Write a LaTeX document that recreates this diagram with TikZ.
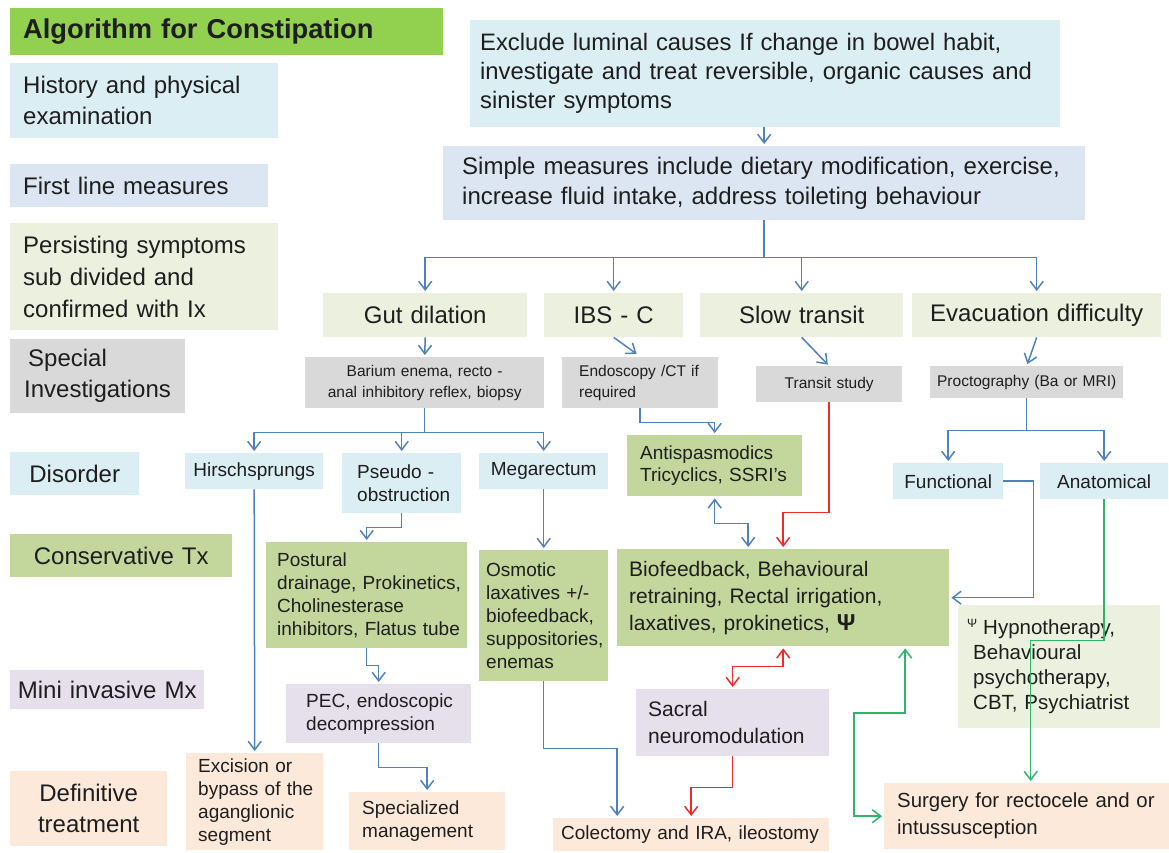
\documentclass[tikz,border=0pt]{standalone}
\usepackage{fontspec}
\setmainfont{Liberation Sans}
\usetikzlibrary{arrows.meta,calc}
\definecolor{tgreen}{HTML}{92D050}
\definecolor{lblue}{HTML}{DBEEF4}
\definecolor{bgrey}{HTML}{DCE6F2}
\definecolor{olive}{HTML}{EBF1DE}
\definecolor{lgrey}{HTML}{D9D9D9}
\definecolor{mgreen}{HTML}{C3D69B}
\definecolor{lav}{HTML}{E5E0EC}
\definecolor{peach}{HTML}{FDE9D9}
\definecolor{ablue}{HTML}{4F81BD}
\definecolor{ared}{HTML}{EE2A2A}
\definecolor{agreen}{HTML}{2DB56A}
\definecolor{txt}{HTML}{1E1E1E}
\tikzset{
  base/.style={anchor=north west, inner xsep=0pt, inner ysep=0pt, text=txt, draw=none},
  bl/.style n args={3}{base, minimum width=#1pt, minimum height=#2pt, text width=#1pt, align=left, execute at begin node={\leftskip=#3pt\relax}},
  bc/.style 2 args={base, minimum width=#1pt, minimum height=#2pt, text width=#1pt, align=center},
  fs/.style 2 args={font=\fontsize{#1}{#2}\selectfont},
  >={Straight Barb[length=8.5pt,width=13pt]},
  ln/.style={draw=ablue, line width=1.5pt},
  arr/.style={ln, ->, shorten >=2pt},
  darr/.style={ln, <->, shorten >=2pt, shorten <=2pt},
  rarr/.style={arr, draw=ared},
  rdarr/.style={darr, draw=ared},
  garr/.style={arr, draw=agreen},
  gdarr/.style={darr, draw=agreen}
}
\begin{document}
\begin{tikzpicture}[x=1pt,y=-1pt]
\useasboundingbox (0,0) rectangle (1169,852);
\fill[white] (0,0) rectangle (1169,852);

% left column
\node[bl={433}{47}{13}, fill=tgreen, font=\fontsize{27.3}{32}\selectfont\bfseries] (title) at (10,8) {Algorithm for Constipation};
\node[bl={268}{75}{13}, fill=lblue, fs={24}{31}] (hist) at (10,63) {History and physical\\examination};
\node[bl={258}{43}{13}, fill=bgrey, fs={24}{31}] (first) at (10,164) {First line measures};
\node[bl={268}{107}{13}, fill=olive, fs={24}{32}] (persist) at (10,223) {Persisting symptoms\\sub divided and\\confirmed with Ix};
\node[bl={175}{74}{14}, fill=lgrey, fs={24}{31}] (spec) at (10,339) {\hspace*{4pt}Special\\Investigations};
\node[bc={129}{43}, fill=lblue, fs={24}{31}] (disorder) at (10,452) {Disorder};
\node[bc={222}{43}, fill=mgreen, fs={24}{31}] (conserv) at (10,534) {Conservative Tx};
\node[bc={194}{39}, fill=lav, fs={24}{31}] (mini) at (10,670) {Mini invasive Mx};
\node[bc={157}{75}, fill=peach, fs={24}{31}] (defin) at (10,771) {Definitive\\treatment};

% top
\node[bl={590}{107}{10}, fill=lblue, fs={23.8}{29}] (exclude) at (470,20) {Exclude luminal causes If change in bowel habit,\\investigate and treat reversible, organic causes and\\sinister symptoms};
\node[bl={642}{74}{19}, fill=bgrey, fs={24}{30}] (simple) at (443,146) {Simple measures include dietary modification, exercise,\\increase fluid intake, address toileting behaviour};

% categories
\node[bc={204}{44}, fill=olive, fs={24}{30}] (gut) at (323,293) {Gut dilation};
\node[bc={139}{44}, fill=olive, fs={24}{30}] (ibs) at (544,293) {IBS - C};
\node[bc={203}{44}, fill=olive, fs={24}{30}] (slow) at (700,293) {Slow transit};
\node[bc={249}{44}, fill=olive, fs={24}{30}] (evac) at (912,293) {Evacuation difficulty};

% investigations
\node[bc={239}{51}, fill=lgrey, fs={15.5}{21}] (barium) at (305,357) {Barium enema, recto -\\anal inhibitory reflex, biopsy};
\node[bl={156}{51}{17}, fill=lgrey, fs={15.5}{21}] (endo) at (562,357) {Endoscopy /CT if\\required};
\node[bc={146}{36}, fill=lgrey, fs={15.5}{21}] (transit) at (756,366) {Transit study};
\node[bc={193}{32}, fill=lgrey, fs={15.5}{21}] (procto) at (930,366) {Proctography (Ba or MRI)};

% disorders
\node[bc={138}{36}, fill=lblue, fs={19}{23}] (hirsch) at (185,453) {Hirschsprungs};
\node[bl={119}{60}{15}, fill=lblue, fs={19}{23}] (pseudo) at (342,453) {Pseudo -\\obstruction};
\node[bc={129}{36}, fill=lblue, fs={19}{23}] (mega) at (479,453) {Megarectum};
\node[bl={175}{61}{13}, fill=mgreen, fs={19}{22}] (antisp) at (627,435) {Antispasmodics\\Tricyclics, SSRI's};
\node[bc={110}{36}, fill=lblue, fs={19}{23}] (functional) at (893,463) {Functional};
\node[bc={128}{36}, fill=lblue, fs={19}{23}] (anatomical) at (1040,463) {Anatomical};

% conservative
\node[bl={201}{106}{11}, fill=mgreen, fs={19}{23}] (postural) at (266,542) {Postural\\drainage, Prokinetics,\\Cholinesterase\\inhibitors, Flatus tube};
\node[bl={129}{131}{7}, fill=mgreen, fs={19}{23}] (osmotic) at (479,550) {Osmotic\\laxatives +/-\\biofeedback,\\suppositories,\\enemas};
\node[bl={332}{97}{12}, fill=mgreen, fs={21}{27}] (biofeed) at (617,549) {Biofeedback, Behavioural\\retraining, Rectal irrigation,\\laxatives, prokinetics, {\fontsize{23}{27}\selectfont\textbf{Ψ}}};
\node[bl={202}{123}{15}, fill=olive, fs={20.5}{25}] (hypno) at (958,605) {\hspace*{-6pt}\raisebox{7pt}{\fontsize{12}{12}\selectfont Ψ}\hspace*{6pt}Hypnotherapy,\\Behavioural\\psychotherapy,\\CBT, Psychiatrist};

% mini invasive
\node[bl={185}{59}{20}, fill=lav, fs={19}{23}] (pec) at (286,684) {PEC, endoscopic\\decompression};
\node[bl={193}{67}{12}, fill=lav, fs={21}{27}] (sacral) at (636,689) {Sacral\\neuromodulation};

% definitive
\node[bl={137}{97}{12}, fill=peach, fs={19}{23}] (excision) at (186,753) {Excision or\\bypass of the\\aganglionic\\segment};
\node[bl={156}{58}{13}, fill=peach, fs={19}{23}] (specmg) at (349,792) {Specialized\\management};
\node[bl={276}{33}{8}, fill=peach, fs={19}{23}] (colect) at (553,818) {Colectomy and IRA, ileostomy};
\node[bl={285}{66}{13}, fill=peach, fs={20.4}{27}] (surgery) at (884,783) {Surgery for rectocele and or\\intussusception};

% connectors
\draw[arr] (exclude.south -| simple.north) -- (simple.north);
\draw[ln] (simple.south) -- ++(0,37) coordinate (b1);
\draw[arr] (b1) -| (gut.north);
\draw[arr] (b1) -| (ibs.north);
\draw[arr] (b1) -| (slow.north);
\draw[arr] (b1) -| (evac.north);

\draw[arr] (gut.south) -- (barium.north);
\draw[arr] (ibs.south) -- ([xshift=-2pt,yshift=2pt]endo.north);
\draw[arr] (slow.south) -- (transit.north);
\draw[arr] (evac.south) -- (procto.north);

\draw[ln] (barium.south) -- ++(0,24) coordinate (b2);
\draw[arr] (b2) -| (hirsch.north);
\draw[arr] (b2) -| (pseudo.north);
\draw[arr] (b2) -| (mega.north);

\draw[arr] (endo.south) -- ++(0,14) -| (antisp.north);
\draw[darr] (antisp.south) -- ++(0,27) -| ([xshift=-35pt]biofeed.north);
\draw[rarr] (transit.south) -- ++(0,110) -| (biofeed.north);

\draw[ln] (procto.south) -- ++(0,32) coordinate (b3);
\draw[arr] (b3) -| (functional.north);
\draw[arr] (b3) -| (anatomical.north);
\draw[arr] (functional.east) -- ++(30,0) |- (biofeed.east);
\draw[garr] (anatomical.south) -- ++(0,141) -| ([xshift=4pt]surgery.north);

\draw[rdarr] (biofeed.south) -- ++(0,20) -| (sacral.north);
\draw[rarr] (sacral.south) -- ++(0,31) -| (colect.north);
\draw[arr] (osmotic.south) -- ++(0,67) -| ([xshift=-74pt]colect.north);
\draw[gdarr] (surgery.west) -- ++(-30,0) -- ++(0,-103) -| ([xshift=122pt]biofeed.south);

\draw[arr] (hirsch.south) -- (excision.north);
\draw[arr] (pseudo.south) -- ++(0,14) -| (postural.north);
\draw[arr] (postural.south) -- ++(0,17) -| (pec.north);
\draw[arr] (pec.south) -- ++(0,24) -| (specmg.north);
\draw[arr] (mega.south) -- (osmotic.north);
\end{tikzpicture}
\end{document}
